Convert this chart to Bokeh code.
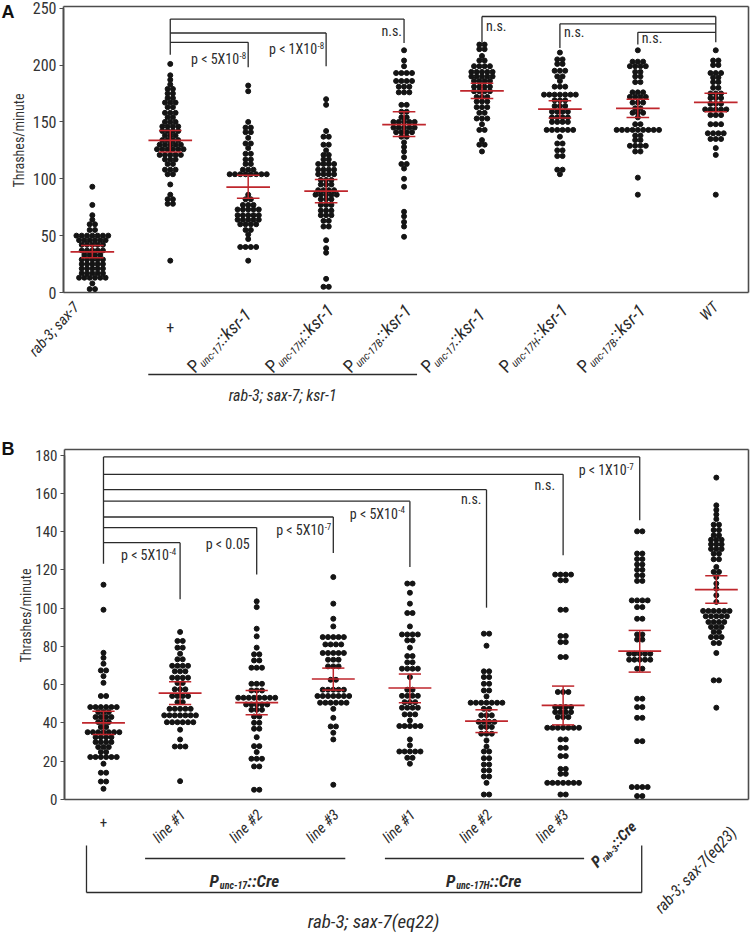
import math
from bokeh.plotting import figure
from bokeh.models import Range1d, Label, LinearAxis, SingleIntervalTicker
from bokeh.layouts import column
from bokeh.embed import file_html
from bokeh.resources import INLINE
from bokeh.core.properties import value

FONT = "Roboto Condensed, DejaVu Sans Condensed, Liberation Sans Narrow, Liberation Sans"
HEAD_FONT = "Liberation Sans"
DOT = "#141414"
RED = "#bf262c"
INK = "#2b2b2b"
FRAME = "#4d4d4d"
CANVAS_W = 750

# ---------------- Panel A data ----------------
A_groups = ["rab-3; sax-7", "+", "Punc-17::ksr-1", "Punc-17H::ksr-1", "Punc-17B::ksr-1",
            "Punc-17::ksr-1 ", "Punc-17H::ksr-1 ", "Punc-17B::ksr-1 ", "WT"]
A_sub = [None, None, "unc-17", "unc-17H", "unc-17B", "unc-17", "unc-17H", "unc-17B", None]
A_ticks = [0, 50, 100, 150, 200, 250]

A0 = [93, 77, 68, 64, 60, 60, 55, 55,
      50, 50, 50, 50, 50, 50, 50, 46, 46, 46, 46, 46, 46,
      42, 42, 42, 42, 42, 37, 37, 37, 37, 37, 33, 33, 33, 33,
      29, 29, 29, 29, 29, 25, 25, 25, 25, 25, 21, 21, 21, 21, 21,
      17, 17, 17, 17, 17, 13, 13, 13, 13, 13, 13, 8, 3, 3]
A1 = [201, 191, 187, 183, 179, 179, 175, 175, 171, 171, 167, 167, 167,
      163, 163, 158, 158, 158, 154, 154, 150, 150, 150,
      146, 146, 146, 146, 142, 142, 142, 142, 138, 138, 138,
      134, 134, 134, 134, 130, 130, 130, 130, 130,
      126, 126, 126, 126, 126, 126, 121, 121, 121, 121, 121,
      117, 117, 117, 113, 113, 108, 108, 108, 104, 104,
      95, 86, 82, 82, 78, 78, 28]
A2 = [182, 177, 150, 145, 145, 141, 141, 136, 131, 131, 127, 122, 122, 117, 117, 113, 113,
      108, 108, 108, 104, 104, 104, 104, 104, 104, 104, 104,
      86, 82, 82, 77, 77, 77, 73, 73, 73, 73, 73, 68, 68, 68, 68, 68,
      64, 64, 64, 64, 64, 60, 60, 60, 60, 55, 55, 51, 47, 40, 40, 40, 40, 28]
A3 = [170, 165, 142, 137, 137, 130, 130, 125, 121, 121, 117, 117, 113, 113, 113, 113,
      108, 108, 108, 108, 104, 104, 104, 104, 99, 99, 99, 95, 95, 95,
      90, 90, 90, 90, 86, 86, 86, 86, 86, 82, 82, 82, 77, 77, 77,
      72, 72, 72, 68, 68, 68, 63, 63, 58, 58, 46, 39, 35, 12, 5, 5]
A4 = [213, 204, 199, 193, 193, 193, 193, 186, 186, 186, 186, 181, 181, 181,
      176, 176, 176, 165, 165, 159, 159, 154, 154,
      150, 150, 150, 150, 150, 145, 145, 145, 145, 145, 141, 141, 141, 141,
      137, 137, 132, 128, 124, 119, 113, 113, 109, 100, 93, 71, 67, 62, 58, 49]
A5 = [218, 218, 214, 214, 208, 204, 204, 199, 199, 199, 199,
      194, 194, 194, 194, 194, 190, 190, 190, 190, 190, 186, 186, 186, 186,
      181, 181, 181, 181, 177, 177, 177, 177, 172, 172, 172, 168, 168, 168,
      163, 163, 163, 158, 158, 153, 153, 153, 148, 143, 143, 134, 130, 130, 124]
A6 = [211, 205, 205, 201, 201, 195, 195, 195, 190, 190, 186, 181, 181, 181,
      174, 174, 174, 174, 174, 174, 174, 169, 169, 169, 164, 164, 164,
      159, 159, 159, 159, 154, 154, 154, 154, 150, 150, 150, 150,
      143, 143, 143, 143, 143, 143, 137, 131, 131, 125, 125, 120, 120, 108, 108, 104]
A7 = [213, 203, 203, 203, 199, 199, 199, 199, 194, 194, 190, 190, 185, 185,
      176, 176, 176, 172, 172, 172, 172, 167, 167, 167, 162, 162, 158, 158, 158, 154,
      148, 148, 143, 143, 143, 143, 143, 143, 143, 143, 143, 138, 138, 134, 134,
      129, 129, 129, 129, 124, 124, 101, 86]
A8 = [213, 204, 204, 200, 200, 193, 193, 193, 189, 189, 185, 185, 180, 180,
      175, 175, 175, 171, 171, 171, 166, 166, 166, 161, 161, 161, 161, 161,
      156, 156, 156, 148, 148, 148, 140, 140, 140, 140, 135, 135, 135, 127, 121, 86]
A_values = [A0, A1, A2, A3, A4, A5, A6, A7, A8]

A_mean = [35.8, 133.7, 92.7, 89.2, 147.7, 177.3, 161.3, 162.0, 167.2]
A_upper = [41.3, 142.4, 103.2, 99.4, 159.0, 184.0, 168.6, 170.0, 175.3]
A_lower = [30.5, 123.5, 82.8, 79.0, 137.2, 170.6, 153.5, 153.8, 159.0]

A_hub_left = 1
A_left_targets = [2, 3, 4]
A_left_levels = [220.0, 228.2, 240.4]
A_left_ends = [198.0, 199.0, 219.5]
A_left_hub_end = 209.0
A_left_text = [("p < 5X10", "-8"), ("p < 1X10", "-8"), ("n.s.", "")]
A_left_text_y = [205.0, 214.0, 230.0]

A_hub_right = 8
A_right_sources = [5, 6, 7]
A_right_levels = [242.7, 236.3, 228.8]
A_right_ends = [219.5, 215.0, 218.0]
A_right_hub_end = 220.0
A_right_text = ["n.s.", "n.s.", "n.s."]
A_right_text_y = [234.0, 229.0, 224.0]

# ---------------- Panel B data ----------------
B_groups = ["+", "Punc-17 line #1", "Punc-17 line #2", "Punc-17 line #3",
            "Punc-17H line #1", "Punc-17H line #2", "Punc-17H line #3",
            "Prab-3::Cre", "rab-3; sax-7(eq23)"]
B_line_names = [None, "line #1", "line #2", "line #3", "line #1", "line #2", "line #3", None, None]
B_ticks = [0, 20, 40, 60, 80, 100, 120, 140, 160, 180]

B0 = [112.3, 99.2, 76.7, 74.1, 71.0, 67.5, 67.5, 64.5, 61.0, 54.1, 54.1,
      48.3, 48.3, 48.3, 48.3, 48.3, 48.3, 45.7, 45.7, 45.7, 43.1, 43.1, 43.1, 43.1,
      40.5, 40.5, 40.5, 37.9, 37.9, 35.2, 35.2, 35.2, 35.2, 35.2, 35.2, 35.2,
      32.6, 32.6, 32.6, 32.6, 30.0, 30.0, 30.0, 30.0, 27.4, 27.4, 27.4, 24.8, 24.8,
      22.2, 22.2, 22.2, 22.2, 22.2, 22.2, 18.7, 14.0, 14.0, 9.4, 9.4, 5.6]
B1 = [87.6, 82.9, 82.9, 79.4, 79.4, 76.2, 73.3, 73.3, 69.9, 69.9, 69.9, 69.9,
      67.0, 67.0, 67.0, 63.7, 63.7, 63.7, 63.7, 60.9, 60.9, 57.6, 57.6, 57.6,
      54.1, 54.1, 54.1, 54.1, 50.9, 50.9, 47.4, 47.4, 47.4, 47.4, 47.4,
      44.0, 44.0, 44.0, 44.0, 44.0, 44.0, 44.0, 40.4, 40.4, 40.4, 40.4, 40.4, 40.4,
      36.5, 31.4, 27.7, 27.7, 27.7, 9.6]
B2 = [103.6, 100.6, 89.3, 85.3, 79.4, 75.9, 75.9, 72.7, 72.7, 68.9, 68.9, 68.9,
      60.5, 60.5, 60.5, 57.0, 57.0, 57.0, 53.2, 53.2, 53.2, 53.2, 53.2, 53.2, 53.2, 53.2,
      49.7, 49.7, 49.7, 49.7, 49.7, 46.9, 46.9, 46.9, 43.4, 43.4, 40.1, 40.1, 37.0, 37.0,
      32.6, 27.9, 27.9, 24.8, 21.3, 21.3, 21.3, 17.3, 17.3, 5.1, 5.1]
B3 = [116.3, 102.4, 94.5, 90.5, 84.9, 84.9, 84.9, 84.9, 84.9, 81.1, 81.1, 81.1, 81.1,
      76.6, 76.6, 76.6, 76.6, 76.6, 73.1, 73.1, 73.1, 69.6, 69.6, 69.6, 62.6, 62.6,
      57.4, 57.4, 57.4, 57.4, 57.4, 54.1, 54.1, 54.1, 54.1, 54.1, 54.1, 54.1,
      50.6, 50.6, 50.6, 50.6, 50.6, 50.6, 47.4, 42.7, 38.2, 38.2, 34.9, 31.4, 7.7]
B4 = [112.9, 112.9, 108.1, 102.4, 97.5, 97.5, 90.5, 86.3, 86.3, 86.3, 86.3, 83.2, 83.2,
      79.4, 75.0, 75.0, 71.7, 71.7, 68.4, 68.4, 68.4, 68.4, 64.0, 57.4, 57.4,
      54.2, 54.2, 54.2, 54.2, 50.9, 50.9, 50.9, 48.0, 48.0, 48.0, 48.0, 44.5, 44.5, 44.5,
      41.3, 38.4, 38.4, 38.4, 38.4, 38.4, 31.4, 28.3, 25.1, 25.1, 25.1, 25.1, 25.1,
      21.8, 21.8, 18.7]
B5 = [86.7, 86.7, 80.4, 67.0, 67.0, 64.0, 64.0, 60.5, 60.5, 57.0, 57.0, 53.9,
      50.6, 50.6, 50.6, 50.6, 50.6, 50.6, 50.6, 47.4, 47.4, 44.0, 44.0, 44.0,
      40.6, 40.6, 40.6, 40.6, 37.9, 37.9, 37.9, 34.4, 34.4, 34.4, 30.9, 27.7,
      25.1, 25.1, 21.6, 21.6, 18.3, 18.3, 15.2, 15.2, 12.0, 12.0, 8.7, 2.6, 2.6]
B6 = [117.6, 117.6, 117.6, 117.6, 114.6, 114.6, 99.2, 99.2, 85.5, 85.5, 82.3, 82.3,
      74.5, 74.5, 56.2, 56.2, 56.2, 48.3, 48.3, 48.3, 48.3, 45.7, 45.7, 45.7, 45.7,
      43.1, 43.1, 43.1, 37.5, 37.5, 37.5, 37.5, 37.5, 37.5, 37.5, 31.4, 31.4, 27.0, 27.0,
      22.7, 22.7, 16.0, 16.0, 13.4, 13.4, 8.7, 8.7, 8.7, 8.7, 8.7, 8.7, 8.7, 2.6, 2.6]
B7 = [140.2, 140.2, 128.6, 128.6, 125.7, 125.7, 122.9, 122.9, 120.1, 120.1, 117.2, 117.2,
      114.3, 114.3, 104.1, 104.1, 104.1, 104.1, 100.6, 100.6, 94.5, 94.5, 86.3, 86.3,
      83.6, 83.6, 76.2, 76.2, 76.2, 76.2, 76.2, 73.1, 73.1, 73.1, 73.1, 73.1, 68.4, 68.4,
      52.7, 52.7, 48.3, 48.3, 42.7, 42.7, 30.5, 30.5, 6.5, 6.5, 6.5, 6.5, 1.8, 1.8]
B8 = [168.3, 153.8, 151.4, 149.0, 146.6, 143.7, 143.7, 140.9, 140.9, 138.2, 138.2,
      135.8, 135.8, 135.8, 133.4, 133.4, 133.4, 131.0, 131.0, 131.0, 128.5, 128.5,
      125.6, 125.6, 121.6, 119.0, 119.0, 116.3, 112.9, 110.2, 106.8, 103.3,
      98.6, 98.6, 98.6, 98.6, 98.6, 98.6, 95.8, 95.8, 95.8, 95.8, 95.8,
      92.8, 92.8, 92.8, 92.8, 90.2, 90.2, 90.2, 87.6, 87.6, 84.9, 84.9, 84.9,
      81.8, 81.8, 76.6, 62.3, 62.3, 48.0]
B_values = [B0, B1, B2, B3, B4, B5, B6, B7, B8]

B_mean = [40.1, 55.6, 50.6, 63.0, 58.3, 41.0, 49.2, 77.6, 109.7]
B_upper = [46.2, 61.6, 57.0, 68.7, 65.6, 46.9, 59.3, 88.4, 117.0]
B_lower = [34.0, 49.7, 44.3, 57.2, 50.6, 35.0, 39.0, 66.6, 102.6]

B_hub = 0
B_targets = [1, 2, 3, 4, 5, 6, 7]
B_levels = [134.3, 142.2, 147.7, 156.0, 162.0, 170.0, 179.1]
B_ends = [104.7, 117.7, 128.9, 121.6, 100.3, 127.7, 146.0]
B_hub_end = 123.3
B_text = [("p < 5X10", "-4"), ("p < 0.05", ""), ("p < 5X10", "-7"), ("p < 5X10", "-4"),
          ("n.s.", ""), ("n.s.", ""), ("p < 1X10", "-7")]
B_text_y = [127.7, 133.4, 140.8, 149.5, 157.3, 164.3, 172.2]
B_text_gap = [4, 7, 2, 5, 5, 8, 6]

# ---------------- helpers ----------------
W = {'P': .667, 'u': .556, 'n': .556, 'c': .5, '-': .333, '1': .556, '7': .556, 'H': .722,
     'B': .667, ':': .278, 'k': .5, 's': .5, 'r': .333, 'C': .722, 'e': .556, 'a': .556,
     'b': .556, '3': .556, 'X': .667, '0': .556, '5': .556, '8': .556, '4': .556, ' ': .278,
     '<': .584, 'p': .556, '.': .278}
WB = {':': .333, 'r': .389, 'b': .611, 'u': .611, 'n': .611, 'c': .556, 'C': .722}
NARROW = 0.82


def tw(s, size, bold=False):
    tot = 0.0
    for ch in s:
        if bold and ch in WB:
            tot += WB[ch]
        else:
            tot += W.get(ch, .556)
    return tot * size * NARROW


class Mapper:
    """Frame covers the whole canvas; the drawn box sits inside it."""

    def __init__(self, img_y0, height, box_left, box_top, box_w, box_h, bx, by):
        self.img_y0 = img_y0
        self.sx = box_w / (bx[1] - bx[0])
        self.sy = box_h / (by[1] - by[0])
        self.x0 = bx[0] - box_left / self.sx
        self.x1 = self.x0 + CANVAS_W / self.sx
        self.y1 = by[1] + box_top / self.sy
        self.y0 = self.y1 - height / self.sy

    def x(self, img_x):
        return self.x0 + img_x / self.sx

    def y(self, img_y):
        return self.y1 - (img_y - self.img_y0) / self.sy

    def dx(self, px):
        return px / self.sx

    def dy(self, px):
        return px / self.sy


def add_label(p, x, y, text, size, style="normal", align="left", baseline="middle",
              angle=0.0, font=FONT, color=INK):
    p.add_layout(Label(x=x, y=y, text=text, text_font=font, text_font_size=f"{size}px",
                       text_font_style=style, text_align=align, text_baseline=baseline,
                       angle=angle, angle_units="deg", text_color=color))


def glyph_text(p, x, y, text, size, style, align, baseline, angle):
    p.text(x=[x], y=[y], text=[text], angle=math.radians(angle),
           text_font=value(FONT), text_font_size=value(f"{size}px"),
           text_font_style=style, text_align=align, text_baseline=baseline,
           text_color=INK)


def multi_label(p, m, x, y, parts, angle, bold=False):
    """Parts laid out along the text direction from the middle-left point (x, y)."""
    a = math.radians(angle)
    ux, uy = math.cos(a), math.sin(a)
    nx, ny = math.sin(a), -math.cos(a)
    pos = 0.0
    for text, size, style, drop in parts:
        px = pos * ux + drop * nx
        py = pos * uy + drop * ny
        glyph_text(p, x + m.dx(px), y + m.dy(py), text, size, style, "left", "middle", angle)
        pos += tw(text, size, bold) + 1.0
    return pos


def swarm(idx, vals, spacing):
    counts = {}
    for v in vals:
        counts[v] = counts.get(v, 0) + 1
    xs, ys = [], []
    for v, n in counts.items():
        for k in range(n):
            xs.append(idx + (k - (n - 1) / 2) * spacing)
            ys.append(v)
    return xs, ys


def base_figure(h, m, bx, by, ticks, tick_size):
    p = figure(width=CANVAS_W, height=h, x_range=Range1d(m.x0, m.x1), y_range=Range1d(m.y0, m.y1),
               output_backend="svg", toolbar_location=None, x_axis_location=None,
               y_axis_location=None, title=None, min_border=0, min_border_left=0,
               min_border_right=0, min_border_top=0, min_border_bottom=0)
    p.grid.visible = False
    p.outline_line_color = None
    ax = LinearAxis(fixed_location=bx[0], bounds=(ticks[0], ticks[-1]),
                    ticker=SingleIntervalTicker(interval=ticks[1] - ticks[0], num_minor_ticks=0))
    ax.minor_tick_line_color = None
    ax.major_tick_out = 4
    ax.major_tick_in = 0
    ax.major_tick_line_color = FRAME
    ax.major_tick_line_width = 1.2
    ax.axis_line_color = FRAME
    ax.axis_line_width = 1.6
    ax.major_label_text_font = FONT
    ax.major_label_text_font_size = f"{tick_size}px"
    ax.major_label_text_color = "#333333"
    ax.major_label_standoff = 3
    p.add_layout(ax, "left")
    p.segment(x0=[bx[0], bx[1], bx[0], bx[0]], y0=[by[1], by[0], by[0], by[0]],
              x1=[bx[1], bx[1], bx[1], bx[0]], y1=[by[1], by[1], by[0], by[1]],
              line_color=FRAME, line_width=1.6)
    return p


def draw_groups(p, values, means, uppers, lowers, spacing):
    xs, ys = [], []
    for i, vals in enumerate(values):
        gx, gy = swarm(i, vals, spacing)
        xs += gx
        ys += gy
    p.scatter(xs, ys, size=5.0, color=DOT, line_color=DOT)
    idx = list(range(len(means)))
    p.segment(x0=[i - 0.28 for i in idx], y0=means, x1=[i + 0.28 for i in idx], y1=means,
              line_color=RED, line_width=1.7)
    p.segment(x0=[i - 0.145 for i in idx], y0=uppers, x1=[i + 0.145 for i in idx], y1=uppers,
              line_color=RED, line_width=1.5)
    p.segment(x0=[i - 0.145 for i in idx], y0=lowers, x1=[i + 0.145 for i in idx], y1=lowers,
              line_color=RED, line_width=1.5)
    p.segment(x0=idx, y0=lowers, x1=idx, y1=uppers, line_color=RED, line_width=1.5)


def sig_text(p, m, xi, y, main, sup, gap, side="left", size=14):
    if side == "left":
        wsup = tw(sup, 9) + 0.5 if sup else 0.0
        add_label(p, xi + m.dx(-(gap + wsup)), y, main, size, align="right")
        if sup:
            add_label(p, xi + m.dx(-gap), y + m.dy(4), sup, 9, align="right")
    else:
        add_label(p, xi + m.dx(gap), y, main, size, align="left")


def seg(p, pts):
    p.segment(x0=[a[0] for a in pts], y0=[a[1] for a in pts], x1=[a[2] for a in pts],
              y1=[a[3] for a in pts], line_color=INK, line_width=1.3)


# ---------------- Panel A ----------------
A_bx = (-0.37, 8.42)
A_by = (0, 251.5)
mA = Mapper(0, 413, 63, 6, 685, 286, A_bx, A_by)
pA = base_figure(413, mA, A_bx, A_by, A_ticks, 16)
draw_groups(pA, A_values, A_mean, A_upper, A_lower, 0.068)

bx0, by0, bx1, by1 = [], [], [], []
for t, lv, en in zip(A_left_targets, A_left_levels, A_left_ends):
    bx0 += [A_hub_left, t]; by0 += [lv, lv]; bx1 += [t, t]; by1 += [lv, en]
bx0.append(A_hub_left); by0.append(max(A_left_levels)); bx1.append(A_hub_left); by1.append(A_left_hub_end)
for s, lv, en in zip(A_right_sources, A_right_levels, A_right_ends):
    bx0 += [s, s]; by0 += [lv, lv]; bx1 += [A_hub_right, s]; by1 += [lv, en]
bx0.append(A_hub_right); by0.append(max(A_right_levels)); bx1.append(A_hub_right); by1.append(A_right_hub_end)
pA.segment(x0=bx0, y0=by0, x1=bx1, y1=by1, line_color=INK, line_width=1.3)

for t, (mtxt, sup), ty in zip(A_left_targets, A_left_text, A_left_text_y):
    sig_text(pA, mA, t, ty, mtxt, sup, 2)
for s, txt, ty in zip(A_right_sources, A_right_text, A_right_text_y):
    sig_text(pA, mA, s, ty, txt, "", 4, side="right")

add_label(pA, mA.x(1), mA.y(1), "A", 18, "bold", "left", "top", font=HEAD_FONT, color="#111111")
add_label(pA, mA.x(18), mA.y(140), "Thrashes/minute", 14, "normal", "center", "middle", 90,
          color="#333333")

glyph_text(pA, 0 + mA.dx(-16), mA.y(304), A_groups[0], 15, "italic", "right", "middle", 48)
add_label(pA, 1, mA.y(326), A_groups[1], 16, "normal", "center", "middle")
for i in range(2, 8):
    multi_label(pA, mA, i + mA.dx(-58), mA.y(369),
                [("P", 18, "normal", 0), (A_sub[i], 11, "italic", 5), ("::ksr-1", 18, "italic", 0)], 45)
glyph_text(pA, 8, mA.y(304), A_groups[8], 15, "italic", "right", "middle", 45)

ua, ub = 1 + mA.dx(-22), 4 + mA.dx(13)
seg(pA, [(ua, mA.y(374), ub, mA.y(374))])
add_label(pA, (ua + ub) / 2, mA.y(395), "rab-3; sax-7; ksr-1", 16, "italic", "center", "middle")

# ---------------- Panel B ----------------
B_bx = (-0.509, 8.42)
B_by = (0, 183)
mB = Mapper(413, 521, 64, 36, 684, 350, B_bx, B_by)
pB = base_figure(521, mB, B_bx, B_by, B_ticks, 15)
draw_groups(pB, B_values, B_mean, B_upper, B_lower, 0.069)

cx0, cy0, cx1, cy1 = [], [], [], []
for t, lv, en in zip(B_targets, B_levels, B_ends):
    cx0 += [B_hub, t]; cy0 += [lv, lv]; cx1 += [t, t]; cy1 += [lv, en]
cx0.append(B_hub); cy0.append(max(B_levels)); cx1.append(B_hub); cy1.append(B_hub_end)
pB.segment(x0=cx0, y0=cy0, x1=cx1, y1=cy1, line_color=INK, line_width=1.3)

for t, (mtxt, sup), ty, g in zip(B_targets, B_text, B_text_y, B_text_gap):
    sig_text(pB, mB, t, ty, mtxt, sup, g)

add_label(pB, mB.x(1), mB.y(438), "B", 18, "bold", "left", "top", font=HEAD_FONT, color="#111111")
add_label(pB, mB.x(25), mB.y(615), "Thrashes/minute", 14, "normal", "center", "middle", 90,
          color="#333333")

add_label(pB, 0, mB.y(822), B_groups[0], 15, "normal", "center", "middle")
for i in range(1, 7):
    glyph_text(pB, i + mB.dx(3), mB.y(812), B_line_names[i], 15, "italic", "right", "middle", 45)
multi_label(pB, mB, 7 + mB.dx(-46), mB.y(864),
            [("P", 16, "bold italic", 0), ("rab-3", 9, "bold italic", 4), ("::Cre", 15, "bold italic", 0)],
            45, bold=True)
glyph_text(pB, 8 + mB.dx(17), mB.y(829), B_groups[8], 16, "italic", "right", "middle", 47)

u1a, u1b = 1 + mB.dx(-35), 3 + mB.dx(12)
u2a, u2b = 4 + mB.dx(-25), 6 + mB.dx(21)
seg(pB, [(u1a, mB.y(858), u1b, mB.y(858)), (u2a, mB.y(858), u2b, mB.y(858))])
for (ua, ub, sub) in [(u1a, u1b, "unc-17"), (u2a, u2b, "unc-17H")]:
    parts = [("P", 17, "bold italic", 0), (sub, 10, "bold italic", 5), ("::Cre", 17, "bold italic", 0)]
    total = sum(tw(t, s, True) + 1.0 for t, s, _, _ in parts)
    multi_label(pB, mB, (ua + ub) / 2 + mB.dx(-total / 2), mB.y(880), parts, 0, bold=True)

lx0 = 0 + mB.dx(-17)
lx1 = 7 + mB.dx(2)
seg(pB, [(lx0, mB.y(845), lx0, mB.y(892)), (lx0, mB.y(892), lx1, mB.y(892)),
         (lx1, mB.y(892), lx1, mB.y(845))])
add_label(pB, mB.x(373), mB.y(921), "rab-3; sax-7(eq22)", 19, "italic", "center", "middle")

layout = column(pA, pB)
open("out.html", "w").write(file_html(layout, INLINE))
